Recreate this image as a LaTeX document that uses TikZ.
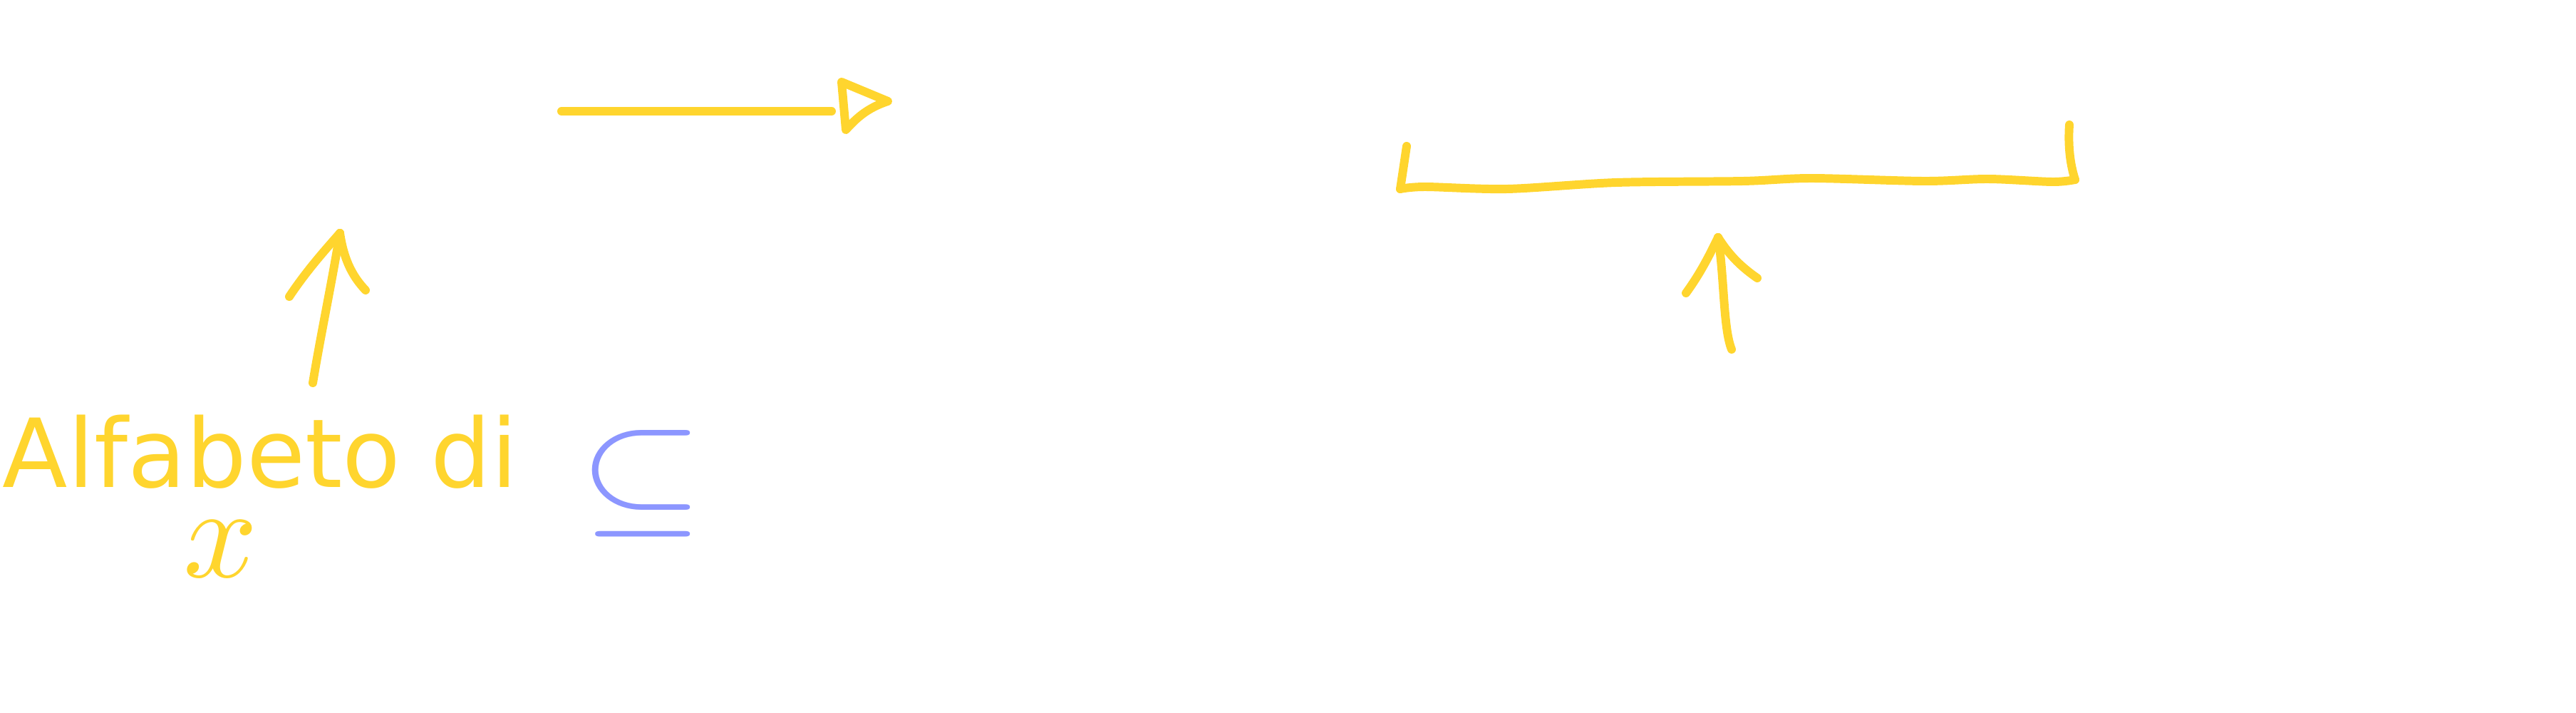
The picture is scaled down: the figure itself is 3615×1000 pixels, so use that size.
\documentclass[tikz,border=0pt]{standalone}
\usepackage{fontspec}
\newfontfamily\handfont{DejaVu Sans}
\definecolor{penyellow}{HTML}{FFD52E}
\definecolor{penblue}{HTML}{8C96FF}
\begin{document}
\begin{tikzpicture}[x=0.01cm,y=-0.01cm,line cap=round,line join=round,
  pen/.style={penyellow,line width=3.4pt}]
  \useasboundingbox (0,0) rectangle (3615,1000);
  \node[anchor=base west,inner sep=0pt,text=penyellow,font=\handfont\fontsize{38}{44}\selectfont] (alfabeto) at (3,683) {Alfabeto di};
  \node[inner sep=0pt,text=penyellow] (varx) at (310,770) {\scalebox{5.2}{$x$}};
  \node[inner sep=0pt,text=penblue] (subeq) at (900,678) {\scalebox{6.4}[5.5]{$\subseteq$}};
  \coordinate (ltail) at (788,156);
  \coordinate (lhead) at (1167,156);
  \draw[pen] (ltail) -- (lhead);
  \draw[pen] (1181,115) -- (1246,142) .. controls (1215,152) and (1200,168) .. (1187,182) -- cycle;
  \coordinate (uptail) at (439,537);
  \coordinate (uptip) at (477,327);
  \draw[pen] (uptail) .. controls (450,470) and (465,400) .. (uptip);
  \draw[pen] (406,416) .. controls (430,380) and (455,352) .. (uptip);
  \draw[pen] (uptip) .. controls (482,360) and (492,385) .. (513,407);
  \draw[pen] (1974,205) -- (1965,265);
  \draw[pen] plot[smooth,tension=0.5] coordinates {(1965,265) (2000,262) (2115,265) (2268,256) (2446,254) (2542,250) (2700,254) (2790,251) (2880,255) (2912,252)};
  \draw[pen] (2912,252) .. controls (2905,230) and (2902,205) .. (2904,175);
  \coordinate (uptailb) at (2430,490);
  \coordinate (uptipb) at (2411,333);
  \draw[pen] (uptailb) .. controls (2418,460) and (2420,390) .. (uptipb);
  \draw[pen] (2366,411) .. controls (2385,385) and (2398,360) .. (uptipb);
  \draw[pen] (uptipb) .. controls (2425,355) and (2440,372) .. (2466,390);
\end{tikzpicture}
\end{document}
